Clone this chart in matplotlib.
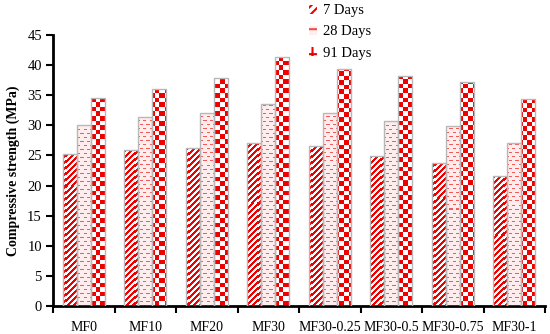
import numpy as np
import matplotlib
matplotlib.use("Agg")
import matplotlib.pyplot as plt
from matplotlib.patches import Patch

categories = ["MF0", "MF10", "MF20", "MF30", "MF30-0.25", "MF30-0.5", "MF30-0.75", "MF30-1"]
days7 = [25.3, 25.9, 26.2, 27.1, 26.5, 24.9, 23.8, 21.6]
days28 = [30.0, 31.4, 32.1, 33.5, 32.1, 30.7, 29.9, 27.1]
days91 = [34.6, 36.1, 37.9, 41.4, 39.3, 38.2, 37.2, 34.3]
series_labels = ["7 Days", "28 Days", "91 Days"]
yticks = [0, 5, 10, 15, 20, 25, 30, 35, 40, 45]

plt.rcParams['font.family'] = ['Liberation Serif', 'DejaVu Serif']
plt.rcParams['hatch.linewidth'] = 1.5

W, H = 550, 334
fig = plt.figure(figsize=(W / 100, H / 100), dpi=100)
ax = fig.add_axes([53 / W, 1 - 306 / H, 492 / W, 271 / H])

RED = np.array([0.93, 0.0, 0.0])
WHITE = np.array([1.0, 1.0, 1.0])
PINK = np.array([1.0, 0.93, 0.93])
DASH = np.array([0.95, 0.35, 0.35])

ph, pw = 271, 492
yy, xx = np.mgrid[0:ph, 0:pw]

def tex_stripes():
    m = ((xx - yy) % 6) < 3
    return np.where(m[..., None], RED, WHITE)

def tex_dashes():
    img = np.ones((ph, pw, 3)) * PINK
    row = yy // 4
    on_row = (yy % 4) == 0
    offs = (row % 2) * 3
    on_dash = ((xx + offs) % 6) < 3
    img[on_row & on_dash] = DASH
    return img

def tex_checker():
    c = 4.6
    m = ((np.floor(xx / c) + np.floor(yy / c)) % 2) == 0
    return np.where(m[..., None], RED, WHITE)

textures = [tex_stripes(), tex_dashes(), tex_checker()]

x = np.arange(len(categories))
bw = 0.228
series = [days7, days28, days91]
for i, vals in enumerate(series):
    bars = ax.bar(x + (i - 1) * bw, vals, bw, facecolor='none',
                  edgecolor='#B8B8B8', linewidth=1.0, zorder=3)
    for b in bars:
        im = ax.imshow(textures[i], extent=(-0.5, 7.5, 0, 45), origin='lower',
                       aspect='auto', interpolation='nearest', zorder=2)
        im.set_clip_path(b)

ax.set_xlim(-0.5, 7.5)
ax.set_ylim(0, 45)
ax.set_yticks(yticks)
ax.set_xticks(x)
ax.set_xticklabels(categories)
ax.set_xticks(np.arange(-0.5, 8, 1), minor=True)
ax.tick_params(axis='x', which='major', length=0, pad=10.5, labelsize=10)
ax.tick_params(axis='x', which='minor', length=5, width=1.5, direction='out')
ax.tick_params(axis='y', which='major', length=5, width=1.5, direction='out', labelsize=10.5, pad=3)

for s in ['top', 'right']:
    ax.spines[s].set_visible(False)
for s in ['left', 'bottom']:
    ax.spines[s].set_linewidth(2)

ax.set_ylabel("Compressive strength (MPa)", fontsize=10, fontweight='bold', labelpad=5)

handles = [
    Patch(facecolor='white', edgecolor='#EE0000', hatch='////', linewidth=0),
    Patch(facecolor='#FFEEEE', edgecolor='#F05050', hatch='--', linewidth=0),
    Patch(facecolor='white', edgecolor='#EE0000', hatch='++', linewidth=0),
]
fig.legend(handles, series_labels, loc='upper left', bbox_to_anchor=(308 / W, 1 - 3 / H),
           frameon=False, fontsize=10.5, handlelength=0.55, handleheight=0.55,
           handletextpad=0.35, labelspacing=0.55, borderaxespad=0.0, borderpad=0.1)

fig.savefig("out.png", dpi=100)
